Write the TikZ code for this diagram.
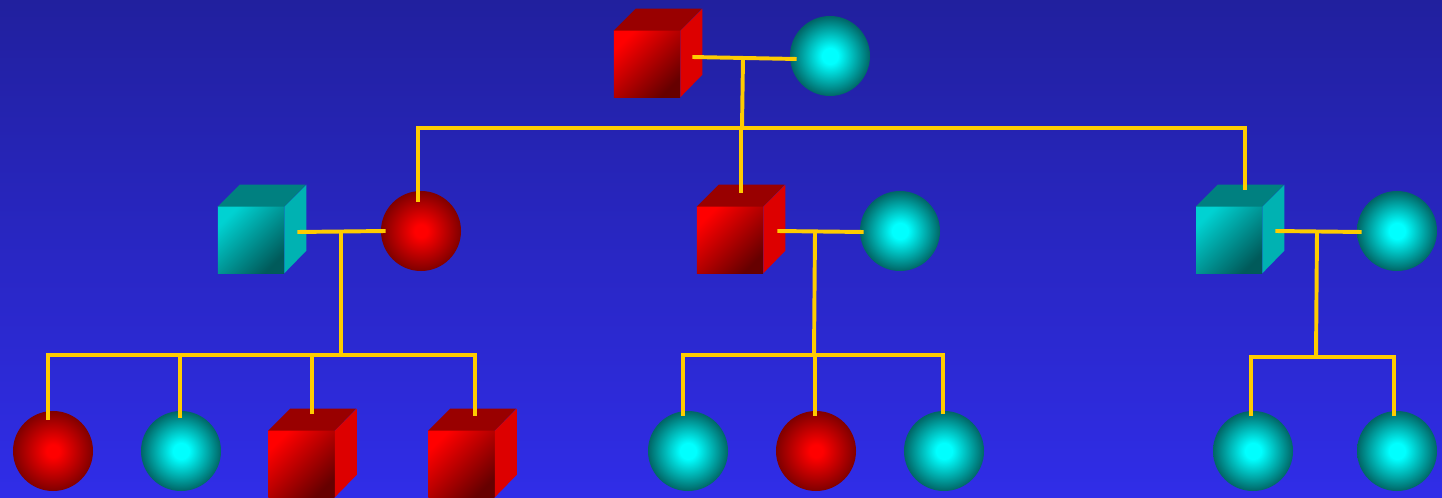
\documentclass[tikz,border=0pt]{standalone}
\usepackage{tikz}
\usetikzlibrary{calc}

\definecolor{bgtop}{RGB}{33,32,158}
\definecolor{bgbot}{RGB}{48,45,232}
\definecolor{linecol}{RGB}{255,204,0}
\definecolor{redtop}{RGB}{153,0,0}
\definecolor{redside}{RGB}{221,0,0}
\definecolor{tealfront}{RGB}{0,210,210}
\definecolor{tealdark}{RGB}{0,90,90}
\definecolor{tealtop}{RGB}{0,128,128}
\definecolor{tealside}{RGB}{0,178,178}
\pgfdeclareradialshading{redball}{\pgfpoint{0bp}{0bp}}{color(0bp)=(red); color(4bp)=(red); color(25bp)=(red!50!black); color(50bp)=(red!50!black)}
\pgfdeclareradialshading{tealball}{\pgfpoint{0bp}{0bp}}{color(0bp)=(cyan); color(5bp)=(cyan); color(25bp)=(cyan!40!black); color(50bp)=(cyan!40!black)}

\begin{document}
\begin{tikzpicture}[x=0.025cm,y=-0.025cm]

    \tikzset{LN/.style={draw=linecol,line width=2.8pt}}
    \tikzset{MR/.style={rectangle,inner sep=0mm,minimum size=1.65cm,top color=red,bottom color=red!40!black,shading angle=45}}
    \tikzset{MT/.style={rectangle,inner sep=0mm,minimum size=1.65cm,top color=tealfront,bottom color=tealdark,shading angle=45}}
    \tikzset{FR/.style={circle,inner sep=0mm,minimum size=2cm,shade,shading=redball}}
    \tikzset{FT/.style={circle,inner sep=0mm,minimum size=2cm,shade,shading=tealball}}

    \useasboundingbox (0,0) rectangle (1442,498);
    \fill[top color=bgtop,bottom color=bgbot] (0,0) rectangle (1442,498);

    \node (1) [MR] at (647,64) {};
    \node (2) [FT] at (830,56) {};
    	\node (3) [MT] at (251,240) {};
    	\node (4) [FR] at (421,231) {};
    		\node (9) [FR] at (53,451) {};
    		\node (10) [FT] at (181,451) {};
    		\node (11) [MR] at (301.5,464) {};
    		\node (12) [MR] at (461.5,464) {};
    	\node (5) [MR] at (730,240) {};
    	\node (6) [FT] at (900,231) {};
    		\node (13) [FT] at (688,451) {};
    		\node (14) [FR] at (816,451) {};
    		\node (15) [FT] at (944,451) {};
    	\node (7) [MT] at (1229,240) {};
    	\node (8) [FT] at (1397,231) {};
    		\node (16) [FT] at (1253,451) {};
    		\node (17) [FT] at (1397,451) {};

    % top and side faces of the cubes
    \foreach \c/\ft/\fs in {1/redtop/redside,3/tealtop/tealside,5/redtop/redside,
                            7/tealtop/tealside,11/redtop/redside,12/redtop/redside} {
        \fill[\ft] (\c.north west) -- ++(22,-22) -- ++(66,0) -- (\c.north east) -- cycle;
        \fill[\fs] (\c.north east) -- ++(22,-22) -- ++(0,66) -- (\c.south east) -- cycle;
    }

    \coordinate (u1) at (743,58);   \coordinate (b1) at (742,128);
    \coordinate (u2) at (341,232);  \coordinate (b2) at (341,355);
    \coordinate (u3) at (815,232);  \coordinate (b3) at (814,355);
    \coordinate (u4) at (1317,232); \coordinate (b4) at (1316,357);

    \path[LN] ($(1.east)+(12,-7)$) -- ($(2.west)+(7,3)$);
    \path[LN] (u1) -- (b1);
    	\path[LN] (b1) -| ([xshift=-0.08cm,yshift=-0.28cm]4.north);
    	\path[LN] (b1) -| ([xshift=0.28cm,yshift=0.35cm]5.north);
    	\path[LN] (b1) -| ([xshift=0.4cm,yshift=0.42cm]7.north);

    \path[LN] ($(3.east)+(13,-8)$) -- ($(4.west)+(5,0)$);
    \path[LN] (u2) -- (b2);
    	\path[LN] (b2) -| ([xshift=-0.12cm,yshift=-0.22cm]9.north);
    	\path[LN] (b2) -| ([xshift=-0.03cm,yshift=-0.18cm]10.north);
    	\path[LN] (b2) -| ([xshift=0.26cm,yshift=0.42cm]11.north);
    	\path[LN] (b2) -| ([xshift=0.34cm,yshift=0.38cm]12.north);

    \path[LN] ($(5.east)+(14,-9)$) -- ($(6.west)+(4,1)$);
    \path[LN] (u3) -- (b3);
    	\path[LN] (b3) -| ([xshift=-0.12cm,yshift=-0.12cm]13.north);
    	\path[LN] (b3) -| ([xshift=-0.03cm,yshift=-0.12cm]14.north);
    	\path[LN] (b3) -| ([xshift=-0.03cm,yshift=-0.08cm]15.north);

    \path[LN] ($(7.east)+(13,-9)$) -- ($(8.west)+(5,1)$);
    \path[LN] (u4) -- (b4);
    	\path[LN] (b4) -| ([xshift=-0.05cm,yshift=-0.12cm]16.north);
    	\path[LN] (b4) -| ([xshift=-0.08cm,yshift=-0.12cm]17.north);
\end{tikzpicture}
\end{document}
